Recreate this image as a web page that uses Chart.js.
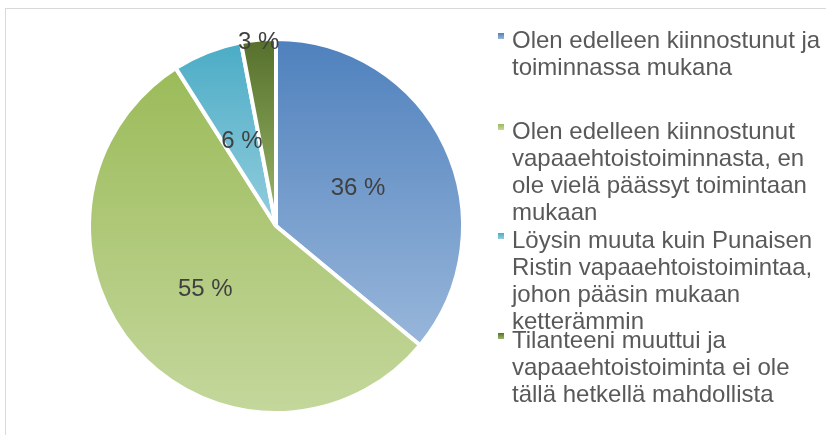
<!DOCTYPE html>
<html>
<head>
<meta charset="utf-8">
<script src="https://cdn.jsdelivr.net/npm/chart.js@4/dist/chart.umd.min.js"></script>
<style>
  body { margin: 0; background: #fff; }
  #wrap { position: relative; width: 826px; height: 435px; overflow: hidden;
          font-family: "Liberation Sans", Arial, sans-serif; }
  #frame { position: absolute; left: 5px; top: 8px; width: 900px; height: 500px;
           border-left: 1px solid #d9d9d9; border-top: 1px solid #d9d9d9; }
  canvas { position: absolute; left: 0; top: 0; }
  .item { position: absolute; left: 512px; font-size: 24px; line-height: 27px;
          color: #595959; white-space: nowrap; }
  .mark { position: absolute; left: -14px; top: 7px; width: 6px; height: 6px; }
</style>
</head>
<body>
<div id="wrap">
  <div id="frame"></div>
  <canvas id="pie" width="826" height="435"></canvas>
  <div id="legend"></div>
</div>
<script>
/*************************
 DATA
**************************/
const labels = [
  ["Olen edelleen kiinnostunut ja", "toiminnassa mukana"],
  ["Olen edelleen kiinnostunut", "vapaaehtoistoiminnasta, en", "ole vielä päässyt toimintaan", "mukaan"],
  ["Löysin muuta kuin Punaisen", "Ristin vapaaehtoistoimintaa,", "johon pääsin mukaan", "ketterämmin"],
  ["Tilanteeni muuttui ja", "vapaaehtoistoiminta ei ole", "tällä hetkellä mahdollista"]
];
const shares = [36, 55, 6, 3];

/*************************
 STYLE
**************************/
const colorsTop = ["#4f81bd", "#9bbb59", "#4bacc6", "#56702c"];
const colorsBottom = ["#98b6da", "#c4d79c", "#93cddd", "#9ab868"];
const labelRadius = [0.49, 0.51, 0.5, 1.0];
const legendTop = [26, 117, 226, 326];
const RADIUS = 187;

/*************************
 SLICE GRADIENT
**************************/
function sliceFill(ctx) {
  const i = ctx.dataIndex;
  const area = ctx.chart.chartArea;
  if (!area) return colorsTop[i];
  const cy = (area.top + area.bottom) / 2;
  const total = shares.reduce((a, b) => a + b, 0);
  let before = 0;
  for (let k = 0; k < i; k++) before += shares[k];
  const a0 = -Math.PI / 2 + before / total * 2 * Math.PI;
  const a1 = a0 + shares[i] / total * 2 * Math.PI;
  const ys = [cy, cy + RADIUS * Math.sin(a0), cy + RADIUS * Math.sin(a1)];
  [-Math.PI / 2, Math.PI / 2, 3 * Math.PI / 2].forEach(a => {
    if (a > a0 && a < a1) ys.push(cy + RADIUS * Math.sin(a));
  });
  const g = ctx.chart.ctx.createLinearGradient(0, Math.min(...ys), 0, Math.max(...ys));
  g.addColorStop(0, colorsTop[i]);
  g.addColorStop(1, colorsBottom[i]);
  return g;
}

/*************************
 PERCENT LABELS
**************************/
const pctLabels = {
  id: "pctLabels",
  afterDatasetsDraw(chart) {
    const c = chart.ctx;
    const arcs = chart.getDatasetMeta(0).data;
    c.save();
    c.font = '24px "Liberation Sans", Arial, sans-serif';
    c.fillStyle = "#404040";
    c.textAlign = "center";
    c.textBaseline = "middle";
    arcs.forEach((arc, i) => {
      const mid = (arc.startAngle + arc.endAngle) / 2;
      const r = (arc.outerRadius - 2) * labelRadius[i];
      c.fillText(shares[i] + " %", arc.x + r * Math.cos(mid), arc.y + r * Math.sin(mid) + 1);
    });
    c.restore();
  }
};

/*************************
 CHART
**************************/
new Chart(document.getElementById("pie"), {
  type: "pie",
  data: {
    labels: labels.map(l => l.join(" ")),
    datasets: [{
      data: shares,
      backgroundColor: sliceFill,
      borderColor: "#ffffff",
      borderWidth: 4
    }]
  },
  options: {
    responsive: false,
    animation: false,
    radius: RADIUS,
    layout: { padding: { left: 90, top: 40, right: 364, bottom: 23 } },
    plugins: { legend: { display: false }, tooltip: { enabled: false } }
  },
  plugins: [pctLabels]
});

/*************************
 LEGEND
**************************/
const legend = document.getElementById("legend");
labels.forEach((lines, i) => {
  const item = document.createElement("div");
  item.className = "item";
  item.style.top = legendTop[i] + "px";
  item.innerHTML = lines.join("<br>");
  const mark = document.createElement("span");
  mark.className = "mark";
  mark.style.background = "linear-gradient(" + colorsTop[i] + "," + colorsBottom[i] + ")";
  item.appendChild(mark);
  legend.appendChild(item);
});
</script>
</body>
</html>
